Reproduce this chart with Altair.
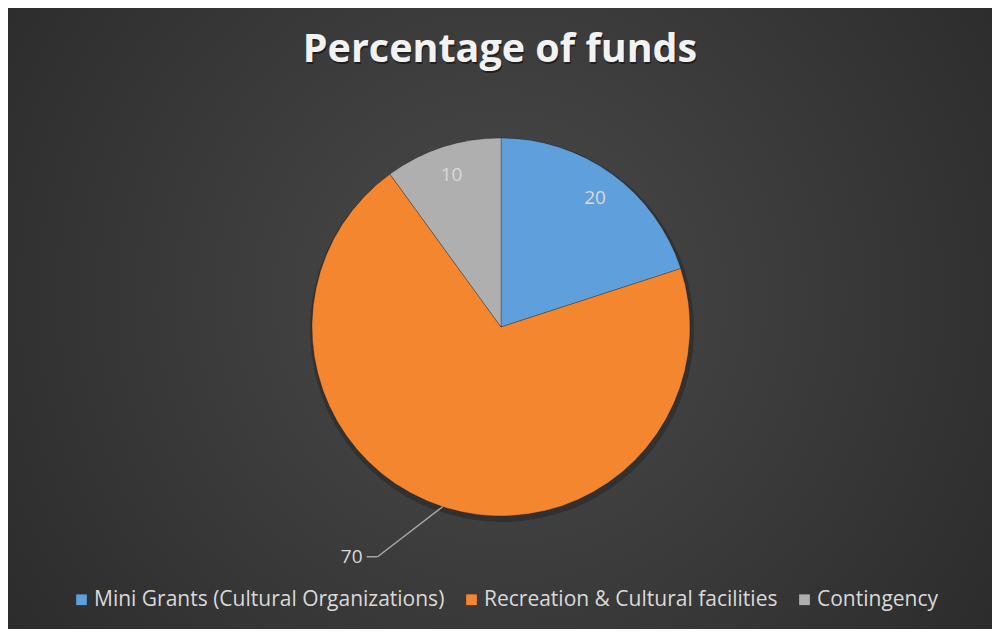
import altair as alt
import pandas as pd

# ---- data ----
categories = ["Mini Grants (Cultural Organizations)", "Recreation & Cultural facilities", "Contingency"]
values = [20, 70, 10]
slice_order = [1, 2, 3]
title_text = "Percentage of funds"

# ---- style ----
colors = ["#5E9FDC", "#F3862F", "#AFAFAF"]
W, H = 984, 621
CX, CY = 493, 319
R = 189
FONT = "Open Sans"

df = pd.DataFrame({"category": categories, "value": values, "order": slice_order})
one = pd.DataFrame({"t": [title_text]})

bg = alt.Chart(one).mark_rect(
    fill={
        "gradient": "radial",
        "x1": 0.5, "y1": 0.48, "r1": 0,
        "x2": 0.5, "y2": 0.48, "r2": 0.72,
        "stops": [
            {"offset": 0, "color": "#4a4a4a"},
            {"offset": 1, "color": "#262626"},
        ],
    }
).encode(x=alt.value(0), x2=alt.value(W), y=alt.value(0), y2=alt.value(H))

shadow = alt.Chart(one).mark_arc(
    radius=R + 3, theta=0, theta2=6.2832, color="#000000", opacity=0.22
).encode(x=alt.value(CX + 1), y=alt.value(CY + 3))

pie = alt.Chart(df).mark_arc(radius=R, stroke="#000000", strokeOpacity=0.25, strokeWidth=1).encode(
    theta=alt.Theta("value:Q", stack=True),
    color=alt.Color(
        "category:N",
        scale=alt.Scale(domain=categories, range=colors),
        legend=alt.Legend(
            orient="none",
            legendX=63,
            legendY=581,
            direction="horizontal",
            title=None,
            symbolType="square",
            symbolSize=115,
            symbolStrokeWidth=0,
            labelFont=FONT,
            labelFontSize=21,
            labelColor="#d9d9d9",
            labelOffset=2,
            columnPadding=16,
            labelLimit=600,
        ),
        sort=categories,
    ),
    order=alt.Order("order:Q"),
    x=alt.value(CX),
    y=alt.value(CY),
)

calc = (
    alt.Chart(df)
    .transform_window(cum="sum(value)", sort=[alt.SortField("order")], frame=[None, 0])
    .transform_joinaggregate(total="sum(value)")
    .transform_calculate(mid="(datum.cum - datum.value/2)/datum.total*2*PI")
)

inside = calc.transform_filter("datum.value < 50").transform_calculate(
    lx=f"{CX} + 160*sin(datum.mid)", ly=f"{CY} - 160*cos(datum.mid)"
).mark_text(font=FONT, fontSize=19, color="#d9d9d9", align="center", baseline="middle").encode(
    x=alt.X("lx:Q", scale=None, axis=None),
    y=alt.Y("ly:Q", scale=None, axis=None),
    text="value:Q",
)

outside_base = calc.transform_filter("datum.value >= 50").transform_calculate(
    sx=f"{CX} + {R}*sin(datum.mid)",
    sy=f"{CY} - {R}*cos(datum.mid)",
).transform_calculate(
    ex="datum.sx - 65", ey="datum.sy + 50"
).transform_calculate(tx="datum.ex - 11", lx="datum.ex - 15")

lead1 = outside_base.mark_rule(color="#a6a6a6", strokeWidth=1.5).encode(
    x=alt.X("sx:Q", scale=None, axis=None),
    y=alt.Y("sy:Q", scale=None, axis=None),
    x2="ex:Q",
    y2="ey:Q",
)
lead2 = outside_base.mark_rule(color="#a6a6a6", strokeWidth=1.5).encode(
    x=alt.X("ex:Q", scale=None, axis=None),
    y=alt.Y("ey:Q", scale=None, axis=None),
    x2="tx:Q",
)
outside = outside_base.mark_text(
    font=FONT, fontSize=19, color="#d9d9d9", align="right", baseline="middle"
).encode(
    x=alt.X("lx:Q", scale=None, axis=None),
    y=alt.Y("ey:Q", scale=None, axis=None),
    text="value:Q",
)

title_shadow = alt.Chart(one).mark_text(
    font=FONT, fontSize=39.5, fontWeight="bold", color="#000000", opacity=0.45,
    align="center", baseline="alphabetic"
).encode(x=alt.value(493), y=alt.value(56), text="t:N")
title = alt.Chart(one).mark_text(
    font=FONT, fontSize=39.5, fontWeight="bold", color="#f2f2f2",
    align="center", baseline="alphabetic"
).encode(x=alt.value(492), y=alt.value(54), text="t:N")

chart = (
    alt.layer(bg, shadow, pie, inside, lead1, lead2, outside, title_shadow, title)
    .properties(width=W, height=H, padding=0,
                autosize=alt.AutoSizeParams(type="fit", contains="padding"),
                background="#333333")
    .configure_view(strokeWidth=0)
)

chart.save("out.html", embed_options={"renderer": "svg", "actions": False})
